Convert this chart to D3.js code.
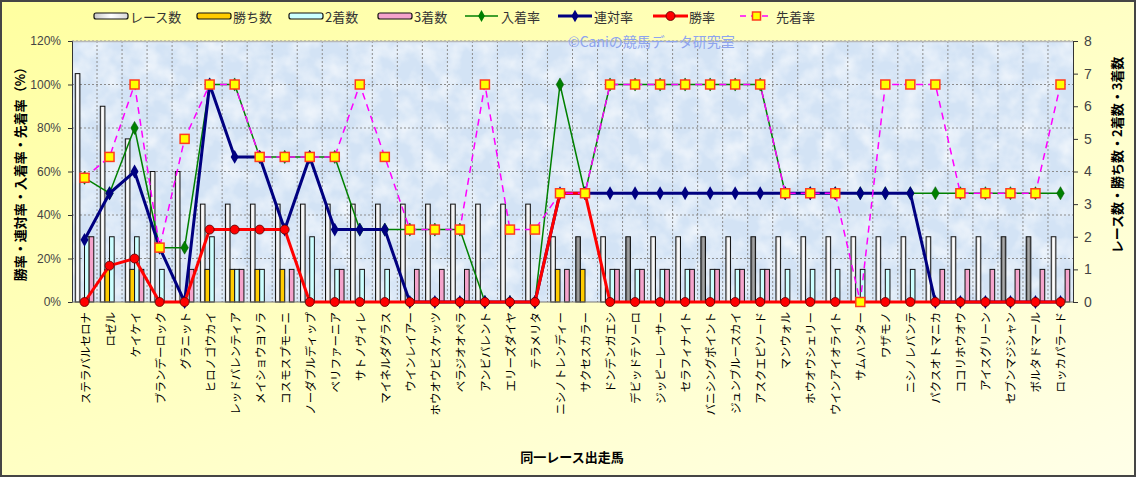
<!DOCTYPE html>
<html>
<head>
<meta charset="utf-8">
<script src="https://cdn.jsdelivr.net/npm/d3@7"></script>
<style>
body { margin: 0; background: #fff; }
text { font-family: "Noto Sans CJK JP", "Noto Sans", sans-serif; }
</style>
</head>
<body>
<svg id="chart"></svg>
<script>
// horses on the x axis
var horses = ["ステラバルセロナ", "ロゼル", "ケイケイ", "ブランデーロック", "グラニット",
  "ヒロノゴウカイ", "レッドバレンティア", "メイショウヨソラ", "コスモスプモーニ", "ノーダブルディップ",
  "ベリファーニア", "サトノヴィレ", "マイネルダグラス", "ウインレイアー", "ホウオウビスケッツ",
  "ベラジオオペラ", "アンビバレント", "エリーズダイヤ", "テラメリタ", "ニシノトレンディー",
  "サクセスカラー", "ドンデンガエシ", "デビッドテソーロ", "ジッピーレーサー", "セラフィナイト",
  "バニシングポイント", "ジュンブルースカイ", "アスクエピソード", "マンウォル", "ホウオウシェリー",
  "ウインアイオライト", "サムハンター", "ワザモノ", "ニシノレバンテ", "パクスオトマニカ",
  "ココリホウオウ", "アイスグリーン", "セブンマジシャン", "ボルタドマール", "ロッカパラード"];

// counts (right axis)
var raceCounts = [7,6,5,4,4,3,3,3,3,3, 3,3,3,3,3,3,3,3,3,2, 2,2,2,2,2,2,2,2,2,2, 2,2,2,2,2,2,2,2,2,2];
var winCounts  = [0,1,1,0,0,1,1,1,1,0, 0,0,0,0,0,0,0,0,0,1, 1,0,0,0,0,0,0,0,0,0, 0,0,0,0,0,0,0,0,0,0];
var secondCounts = [2,2,2,1,0,2,1,1,0,2, 1,1,1,0,0,0,0,0,0,0, 0,1,1,1,1,1,1,1,1,1, 1,1,1,1,0,0,0,0,0,0];
var thirdCounts  = [2,0,1,0,1,0,1,0,1,0, 1,0,0,1,1,1,0,0,0,1, 0,1,1,1,1,1,1,1,0,0, 0,0,0,0,1,1,1,1,1,1];
// race bars shown in grey
var greyRace = [0,0,0,0,0,0,0,0,0,0, 0,0,0,0,0,0,0,0,0,0, 1,0,1,0,0,1,0,1,0,0, 0,0,0,0,0,0,0,1,1,0];

// rates in % (left axis)
var winRate = [0,16.7,20,0,0,33.3,33.3,33.3,33.3,0, 0,0,0,0,0,0,0,0,0,50, 50,0,0,0,0,0,0,0,0,0, 0,0,0,0,0,0,0,0,0,0];
var rentaiRate = [28.6,50,60,25,0,100,66.7,66.7,33.3,66.7, 33.3,33.3,33.3,0,0,0,0,0,0,50, 50,50,50,50,50,50,50,50,50,50, 50,50,50,50,0,0,0,0,0,0];
var nyuchakuRate = [57.1,50,80,25,25,100,100,66.7,66.7,66.7, 66.7,33.3,33.3,33.3,33.3,33.3,0,0,0,100, 50,100,100,100,100,100,100,100,50,50, 50,50,50,50,50,50,50,50,50,50];
var senchakuRate = [57.1,66.7,100,25,75,100,100,66.7,66.7,66.7, 66.7,100,66.7,33.3,33.3,33.3,100,33.3,33.3,50, 50,100,100,100,100,100,100,100,50,50, 50,0,100,100,100,50,50,50,50,100];

var leftTicks = [0, 20, 40, 60, 80, 100, 120];
var rightTicks = [0, 1, 2, 3, 4, 5, 6, 7, 8];

var width = 1136;
var height = 477;
var plotLeft = 72, plotRight = 1073, plotTop = 41, plotBottom = 302;

var svg = d3.select('#chart')
  .attr('width', width)
  .attr('height', height);

var defs = svg.append('defs');

var bg = defs.append('linearGradient').attr('id', 'bgGrad')
  .attr('x1', 0).attr('y1', 0).attr('x2', 1).attr('y2', 1);
bg.append('stop').attr('offset', '0%').attr('stop-color', '#ffffa0');
bg.append('stop').attr('offset', '100%').attr('stop-color', '#ffffe8');

var whiteBar = defs.append('linearGradient').attr('id', 'whiteBar');
whiteBar.append('stop').attr('offset', '0%').attr('stop-color', '#c8c8c8');
whiteBar.append('stop').attr('offset', '50%').attr('stop-color', '#ffffff');
whiteBar.append('stop').attr('offset', '100%').attr('stop-color', '#d8d8d8');

var greyBar = defs.append('linearGradient').attr('id', 'greyBar');
greyBar.append('stop').attr('offset', '0%').attr('stop-color', '#5a5a5a');
greyBar.append('stop').attr('offset', '50%').attr('stop-color', '#a8a8a8');
greyBar.append('stop').attr('offset', '100%').attr('stop-color', '#6a6a6a');

// mottled texture for plot area
var tex = defs.append('filter').attr('id', 'tex')
  .attr('x', 0).attr('y', 0).attr('width', 1).attr('height', 1);
tex.append('feTurbulence').attr('type', 'fractalNoise')
  .attr('baseFrequency', '0.05').attr('numOctaves', 3).attr('seed', 7);
tex.append('feColorMatrix').attr('type', 'matrix')
  .attr('values', '0 0 0 0 1  0 0 0 0 1  0 0 0 0 1  1.6 0 0 0 -0.55');

defs.append('clipPath').attr('id', 'plotClip')
  .append('rect')
  .attr('x', plotLeft).attr('y', plotTop)
  .attr('width', plotRight - plotLeft).attr('height', plotBottom - plotTop);

// background + frame
svg.append('rect')
  .attr('x', 1).attr('y', 1)
  .attr('width', width - 2).attr('height', height - 2)
  .attr('fill', 'url(#bgGrad)')
  .attr('stroke', '#454545')
  .attr('stroke-width', 2);

svg.append('rect')
  .attr('x', plotLeft).attr('y', plotTop)
  .attr('width', plotRight - plotLeft).attr('height', plotBottom - plotTop)
  .attr('fill', '#d3e3f5');
svg.append('rect')
  .attr('x', plotLeft).attr('y', plotTop)
  .attr('width', plotRight - plotLeft).attr('height', plotBottom - plotTop)
  .attr('filter', 'url(#tex)')
  .attr('opacity', 0.75);

// scales
var xScale = d3.scaleBand()
  .domain(horses)
  .range([plotLeft, plotRight])
  .padding(0);

var rateScale = d3.scaleLinear()
  .domain([0, 120])
  .range([plotBottom, plotTop]);

var countScale = d3.scaleLinear()
  .domain([0, 8])
  .range([plotBottom, plotTop]);

var groupWidth = xScale.bandwidth() * 0.74;
var barScale = d3.scaleBand()
  .domain(['race', 'win', 'second', 'third'])
  .range([0, groupWidth]);

// grid
var grid = svg.append('g');
grid.selectAll('line.h')
  .data(leftTicks.slice(1))
  .enter().append('line')
    .attr('x1', plotLeft).attr('x2', plotRight)
    .attr('y1', function(d) { return rateScale(d); })
    .attr('y2', function(d) { return rateScale(d); })
    .attr('stroke', '#8c8c8c')
    .attr('stroke-dasharray', '2,2');
grid.selectAll('line.v')
  .data(horses.slice(1))
  .enter().append('line')
    .attr('x1', function(d) { return xScale(d); })
    .attr('x2', function(d) { return xScale(d); })
    .attr('y1', plotTop).attr('y2', plotBottom)
    .attr('stroke', '#8c8c8c')
    .attr('stroke-dasharray', '2,2');

svg.append('line')
  .attr('x1', plotLeft).attr('x2', plotRight)
  .attr('y1', plotTop + 0.5).attr('y2', plotTop + 0.5)
  .attr('stroke', '#b8b8b8').attr('stroke-width', 1.5);

// watermark
svg.append('text')
  .attr('x', 568).attr('y', 47)
  .attr('font-size', 14)
  .attr('fill', '#8ea4ee')
  .text('©Caniの競馬データ研究室');

// bars
var barRows = horses.map(function(h, i) {
  return [
    {horse: h, key: 'race', value: raceCounts[i], grey: greyRace[i]},
    {horse: h, key: 'win', value: winCounts[i]},
    {horse: h, key: 'second', value: secondCounts[i]},
    {horse: h, key: 'third', value: thirdCounts[i]}
  ];
});
var barFill = {win: '#ffcc00', second: '#ccffff', third: '#f5a3cc'};

svg.append('g')
  .selectAll('g')
  .data(barRows)
  .enter().append('g')
    .attr('transform', function(d) {
      return 'translate(' + (xScale(d[0].horse) + (xScale.bandwidth() - groupWidth) / 2) + ',0)';
    })
  .selectAll('rect')
  .data(function(d) { return d.filter(function(b) { return b.value > 0; }); })
  .enter().append('rect')
    .attr('x', function(d) { return barScale(d.key); })
    .attr('y', function(d) { return countScale(d.value); })
    .attr('width', barScale.bandwidth())
    .attr('height', function(d) { return plotBottom - countScale(d.value); })
    .attr('fill', function(d) {
      if (d.key == 'race') return d.grey ? 'url(#greyBar)' : 'url(#whiteBar)';
      return barFill[d.key];
    })
    .attr('stroke', '#111')
    .attr('stroke-width', 1);

// axes
var leftAxis = svg.append('g')
  .attr('transform', 'translate(' + plotLeft + ',0)')
  .call(d3.axisLeft(rateScale).tickValues(leftTicks).tickSize(4).tickPadding(7)
    .tickFormat(function(d) { return d + '%'; }));
var rightAxis = svg.append('g')
  .attr('transform', 'translate(' + plotRight + ',0)')
  .call(d3.axisRight(countScale).tickValues(rightTicks).tickSize(5).tickPadding(6));
[leftAxis, rightAxis].forEach(function(a) {
  a.select('.domain').attr('stroke', '#333');
  a.selectAll('.tick line').attr('stroke', '#333');
  a.selectAll('.tick text')
    .attr('fill', '#444')
    .style('font-family', '"Liberation Sans", Arial, sans-serif');
});
leftAxis.selectAll('.tick text').attr('font-size', 12);
rightAxis.selectAll('.tick text').attr('font-size', 14);

svg.append('line')
  .attr('x1', plotLeft).attr('x2', plotRight)
  .attr('y1', plotBottom).attr('y2', plotBottom)
  .attr('stroke', '#777');

// x labels
svg.append('g')
  .selectAll('text')
  .data(horses)
  .enter().append('text')
    .attr('transform', function(d) {
      return 'translate(' + (xScale(d) + xScale.bandwidth() / 2) + ',312) rotate(-90)';
    })
    .attr('text-anchor', 'end')
    .attr('dominant-baseline', 'central')
    .attr('font-size', 11.5)
    .attr('fill', '#000')
    .text(function(d) { return d; });

// lines
function lineFor(values) {
  return d3.line()
    .x(function(d, i) { return xScale(horses[i]) + xScale.bandwidth() / 2; })
    .y(function(d) { return rateScale(d); })(values);
}
function cx(i) { return xScale(horses[i]) + xScale.bandwidth() / 2; }

var diamond = d3.symbol().type(d3.symbolDiamond);

// 入着率
svg.append('path').attr('d', lineFor(nyuchakuRate))
  .attr('fill', 'none').attr('stroke', '#008000').attr('stroke-width', 1.5);
svg.append('g').selectAll('path').data(nyuchakuRate).enter().append('path')
  .attr('d', diamond.size(50))
  .attr('transform', function(d, i) { return 'translate(' + cx(i) + ',' + rateScale(d) + ')'; })
  .attr('fill', '#008000').attr('stroke', '#005000').attr('stroke-width', 0.5);

// 連対率
svg.append('path').attr('d', lineFor(rentaiRate))
  .attr('fill', 'none').attr('stroke', '#000080').attr('stroke-width', 3);
svg.append('g').selectAll('path').data(rentaiRate).enter().append('path')
  .attr('d', diamond.size(55))
  .attr('transform', function(d, i) { return 'translate(' + cx(i) + ',' + rateScale(d) + ')'; })
  .attr('fill', '#000080');

// 勝率
svg.append('path').attr('d', lineFor(winRate))
  .attr('fill', 'none').attr('stroke', '#ff0000').attr('stroke-width', 3);
svg.append('g').selectAll('circle').data(winRate).enter().append('circle')
  .attr('cx', function(d, i) { return cx(i); })
  .attr('cy', function(d) { return rateScale(d); })
  .attr('r', 4.5)
  .attr('fill', '#ff0000').attr('stroke', '#550000').attr('stroke-width', 0.8);

// 先着率
svg.append('path').attr('d', lineFor(senchakuRate))
  .attr('fill', 'none').attr('stroke', '#ff00ff').attr('stroke-width', 1.5)
  .attr('stroke-dasharray', '7,5');
svg.append('g').selectAll('rect').data(senchakuRate).enter().append('rect')
  .attr('x', function(d, i) { return cx(i) - 4.5; })
  .attr('y', function(d) { return rateScale(d) - 4.5; })
  .attr('width', 9).attr('height', 9)
  .attr('fill', '#ffff00').attr('stroke', '#ff3c1e').attr('stroke-width', 1.5);

// axis titles
svg.append('text')
  .attr('transform', 'translate(19,171) rotate(-90)')
  .attr('text-anchor', 'middle').attr('dominant-baseline', 'central')
  .attr('font-size', 13).attr('font-weight', 'bold')
  .text('勝率・連対率・入着率・先着率（%）');
svg.append('text')
  .attr('transform', 'translate(1116,155) rotate(-90)')
  .attr('text-anchor', 'middle').attr('dominant-baseline', 'central')
  .attr('font-size', 13).attr('font-weight', 'bold')
  .text('レース数・勝ち数・2着数・3着数');
svg.append('text')
  .attr('x', 572).attr('y', 462)
  .attr('text-anchor', 'middle')
  .attr('font-size', 13).attr('font-weight', 'bold')
  .text('同一レース出走馬');

// legend
var legendItems = [
  {label: 'レース数', x: 94, type: 'bar', fill: 'url(#whiteBar)'},
  {label: '勝ち数', x: 197, type: 'bar', fill: '#ffcc00'},
  {label: '2着数', x: 289, type: 'bar', fill: '#ccffff'},
  {label: '3着数', x: 378, type: 'bar', fill: '#f5a3cc'},
  {label: '入着率', x: 465, type: 'green'},
  {label: '連対率', x: 558, type: 'navy'},
  {label: '勝率', x: 653, type: 'red'},
  {label: '先着率', x: 740, type: 'mag'}
];
var ly = 16;
var legend = svg.append('g');
legendItems.forEach(function(it) {
  var g = legend.append('g');
  if (it.type == 'bar') {
    g.append('rect').attr('x', it.x).attr('y', ly - 3).attr('width', 34).attr('height', 6)
      .attr('rx', 2).attr('fill', it.fill).attr('stroke', '#111').attr('stroke-width', 1.2);
  } else if (it.type == 'green') {
    g.append('line').attr('x1', it.x).attr('x2', it.x + 33).attr('y1', ly).attr('y2', ly)
      .attr('stroke', '#008000').attr('stroke-width', 1.5);
    g.append('path').attr('d', diamond.size(40)).attr('transform', 'translate(' + (it.x + 16.5) + ',' + ly + ')')
      .attr('fill', '#008000');
  } else if (it.type == 'navy') {
    g.append('line').attr('x1', it.x).attr('x2', it.x + 34).attr('y1', ly).attr('y2', ly)
      .attr('stroke', '#000080').attr('stroke-width', 3);
    g.append('path').attr('d', diamond.size(45)).attr('transform', 'translate(' + (it.x + 17) + ',' + ly + ')')
      .attr('fill', '#000080');
  } else if (it.type == 'red') {
    g.append('line').attr('x1', it.x).attr('x2', it.x + 35).attr('y1', ly).attr('y2', ly)
      .attr('stroke', '#ff0000').attr('stroke-width', 3);
    g.append('circle').attr('cx', it.x + 17.5).attr('cy', ly).attr('r', 4.5)
      .attr('fill', '#ff0000').attr('stroke', '#550000').attr('stroke-width', 0.8);
  } else {
    g.append('line').attr('x1', it.x).attr('x2', it.x + 33).attr('y1', ly).attr('y2', ly)
      .attr('stroke', '#ff00ff').attr('stroke-width', 1.5).attr('stroke-dasharray', '6,5');
    g.append('rect').attr('x', it.x + 12.5).attr('y', ly - 4).attr('width', 8).attr('height', 8)
      .attr('fill', '#ffff00').attr('stroke', '#ff3c1e').attr('stroke-width', 1.5);
  }
  g.append('text')
    .attr('x', it.x + 36).attr('y', ly)
    .attr('dominant-baseline', 'central')
    .attr('font-size', 13).attr('fill', '#333')
    .text(it.label);
});
</script>
</body>
</html>
